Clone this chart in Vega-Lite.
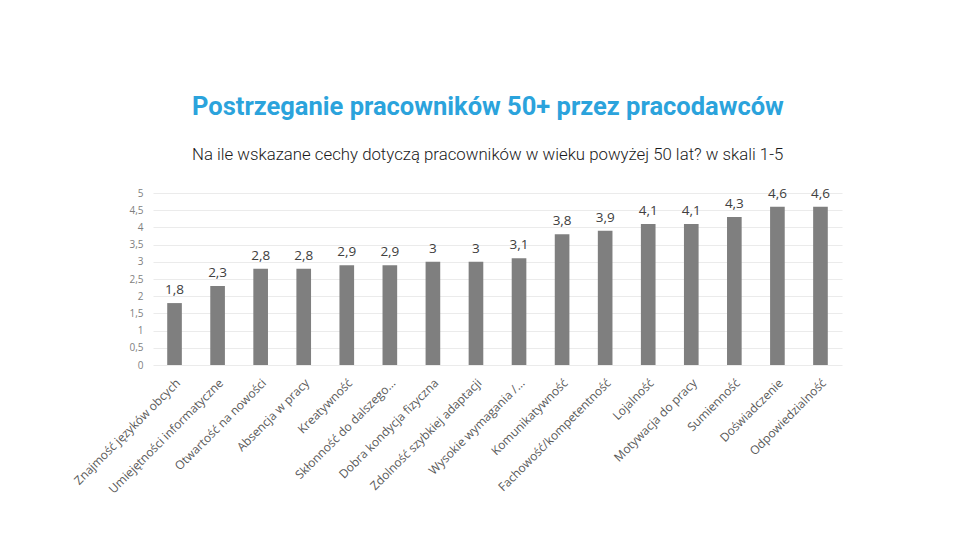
{
  "$schema": "https://vega.github.io/schema/vega-lite/v6.json",
  "width": 689,
  "height": 172,
  "autosize": {"type": "none"},
  "padding": {"left": 153, "top": 193, "right": 118, "bottom": 175},
  "background": "white",
  "config": {
    "locale": {"number": {"decimal": ",", "thousands": " ", "grouping": [3], "currency": ["", " zł"]}},
    "view": {"stroke": null},
    "title": {
      "anchor": "start",
      "frame": "group",
      "font": "Roboto",
      "fontSize": 25.5,
      "fontWeight": "bold",
      "color": "#2ba3dc",
      "subtitleFont": "Roboto",
      "subtitleFontSize": 16.8,
      "subtitleFontWeight": 300,
      "subtitleColor": "#1a1a1a",
      "subtitlePadding": 26,
      "offset": 23,
      "dx": 39
    }
  },
  "title": {
    "text": "Postrzeganie pracowników 50+ przez pracodawców",
    "subtitle": "Na ile wskazane cechy dotyczą pracowników w wieku powyżej 50 lat? w skali 1-5"
  },
  "data": {
    "values": [
      {"cecha": "Znajmość języków obcych", "ocena": 1.8},
      {"cecha": "Umiejętności informatyczne", "ocena": 2.3},
      {"cecha": "Otwartość na nowości", "ocena": 2.8},
      {"cecha": "Absencja w pracy", "ocena": 2.8},
      {"cecha": "Kreatywność", "ocena": 2.9},
      {"cecha": "Skłonność do dalszego...", "ocena": 2.9},
      {"cecha": "Dobra kondycja fizyczna", "ocena": 3.0},
      {"cecha": "Zdolność szybkiej adaptacji", "ocena": 3.0},
      {"cecha": "Wysokie wymagania /...", "ocena": 3.1},
      {"cecha": "Komunikatywność", "ocena": 3.8},
      {"cecha": "Fachowość/kompetentność", "ocena": 3.9},
      {"cecha": "Lojalność", "ocena": 4.1},
      {"cecha": "Motywacja do pracy", "ocena": 4.1},
      {"cecha": "Sumienność", "ocena": 4.3},
      {"cecha": "Doświadczenie", "ocena": 4.6},
      {"cecha": "Odpowiedzialność", "ocena": 4.6}
    ]
  },
  "encoding": {
    "x": {
      "field": "cecha",
      "type": "nominal",
      "sort": null,
      "scale": {"paddingInner": 0.66, "paddingOuter": 0.33},
      "axis": {
        "title": null,
        "labelAngle": -45,
        "labelFont": "Open Sans",
        "labelFontSize": 12,
        "labelColor": "#595959",
        "labelPadding": 12,
        "labelLimit": 300,
        "ticks": false,
        "domain": false
      }
    },
    "y": {
      "field": "ocena",
      "type": "quantitative",
      "scale": {"domain": [0, 5]},
      "axis": {
        "title": null,
        "values": [0, 0.5, 1, 1.5, 2, 2.5, 3, 3.5, 4, 4.5, 5],
        "format": "~r",
        "labelFont": "Open Sans",
        "labelFontSize": 10,
        "labelColor": "#7f7f7f",
        "labelPadding": 10,
        "ticks": false,
        "domain": false,
        "gridColor": "#ebebeb",
        "gridWidth": 1
      }
    }
  },
  "layer": [
    {"mark": {"type": "bar", "color": "#7f7f7f"}},
    {
      "mark": {"type": "text", "baseline": "bottom", "dy": -6, "font": "Open Sans", "fontSize": 13.5, "color": "#404040"},
      "encoding": {"text": {"field": "ocena", "type": "quantitative", "format": "~r"}}
    }
  ]
}
